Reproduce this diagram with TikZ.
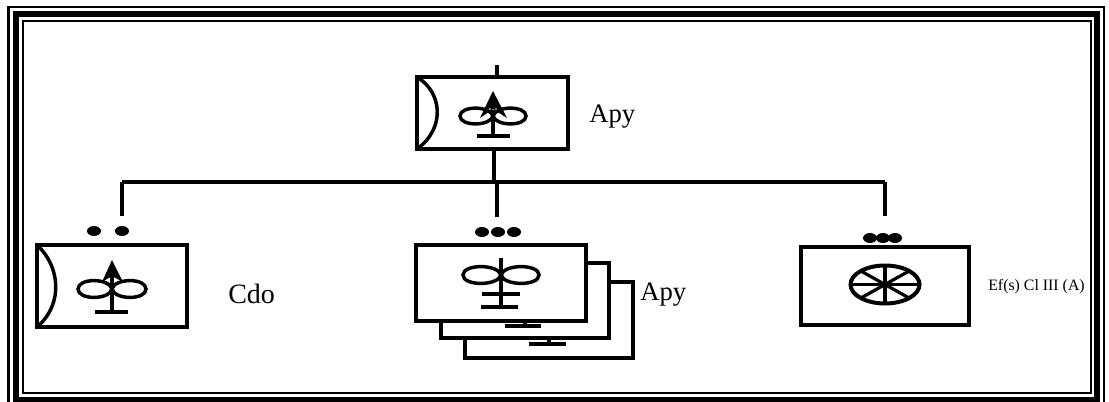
\documentclass[tikz,border=0pt]{standalone}
\usepackage{fontspec}
\setmainfont{Liberation Serif}
\usetikzlibrary{shapes.geometric}
\tikzset{
  px/.style={x=0.75pt,y=-0.75pt},
  wire/.style={line width=3pt,line cap=butt},
  unitbox/.style={draw,fill=white,line width=3pt,rectangle,outer sep=0pt,inner sep=0pt},
  glyph/.style={line width=2.6pt},
  bar/.style={line width=3pt},
  blob/.style={fill=black,ellipse,inner sep=0pt,minimum width=10.5pt,minimum height=7.5pt},
  lbl/.style={inner sep=0pt,anchor=west,font=\fontsize{20}{22}\selectfont},
  lblb/.style={inner sep=0pt,anchor=west,font=\fontsize{21}{23}\selectfont},
  small/.style={inner sep=0pt,anchor=west,font=\fontsize{11.9}{13}\selectfont}
}
\newcommand{\loops}[4]{% centre x, y, half-width, half-height
  \draw[glyph] (#1,#2)
    .. controls ({#1-0.08*#3},{#2-1.4*#4}) and ({#1-#3},{#2-1.4*#4}) .. ({#1-#3},#2)
    .. controls ({#1-#3},{#2+1.4*#4}) and ({#1-0.08*#3},{#2+1.4*#4}) .. (#1,#2)
    .. controls ({#1+0.08*#3},{#2-1.4*#4}) and ({#1+#3},{#2-1.4*#4}) .. ({#1+#3},#2)
    .. controls ({#1+#3},{#2+1.4*#4}) and ({#1+0.08*#3},{#2+1.4*#4}) .. (#1,#2) -- cycle;}
\begin{document}
\begin{tikzpicture}[px]
\useasboundingbox (0,0) rectangle (1109,401);
% frame
\draw[line width=1.9pt] (8.75,7) rectangle (1103.75,410);
\draw[line width=4.5pt] (16,14) rectangle (1097,399.5);
\draw[line width=1.5pt] (22.7,21) rectangle (1091,393);
% units
\node[unitbox,minimum width=113.25pt,minimum height=54pt] (top) at (492.5,113) {};
\node[unitbox,minimum width=112.5pt,minimum height=61.5pt] (left) at (112,286) {};
\node[unitbox,minimum width=126pt,minimum height=57pt] (m3) at (548.5,320) {};
\node[unitbox,minimum width=126pt,minimum height=56.25pt] (m2) at (524.5,300.5) {};
\node[unitbox,minimum width=127.5pt,minimum height=57pt] (mid) at (501,283) {};
\node[unitbox,minimum width=126pt,minimum height=58.5pt] (right) at (885,286) {};
% connectors
\coordinate (stemtop) at (497,65);
\coordinate (busL) at (122,182);
\coordinate (busR) at (885,182);
\coordinate (busT) at (494,182);
\coordinate (busM) at (497,182);
\coordinate (dropL) at (122,216);
\coordinate (dropM) at (497,217);
\coordinate (dropR) at (885,216);
\draw[wire] (stemtop) -- (stemtop |- top.north);
\draw[wire] (busT |- top.south) -- (busT);
\draw[wire] (busL) -- (busR);
\draw[wire] (busL) -- (dropL);
\draw[wire] (busM) -- (dropM);
\draw[wire] (busR) -- (dropR);
% curved sides
\draw[glyph] (top.north west) .. controls (442,92) and (446,128) .. (top.south west);
\draw[glyph] (left.north west) .. controls (60,266) and (64,304) .. (left.south west);
% top symbol
\loops{493}{116}{33}{7.5}
\fill (493,91) -- (507,118) -- (493,109) -- (480,118) -- cycle;
\fill[white] (490,109) circle (0.8) (496,109) circle (0.8);
\draw[glyph] (493,110) -- (493,136);
\draw[bar] (477,136) -- (510,136);
% left symbol
\loops{112}{289}{34}{8}
\fill (112,260) -- (123,282) -- (112,276) -- (102,282) -- cycle;
\draw[glyph] (112,272) -- (112,312);
\draw[bar] (95,312) -- (128,312);
% middle symbol
\loops{501}{275}{38}{8}
\draw[glyph] (501,258) -- (501,307);
\draw[bar] (482,294) -- (520,294);
\draw[bar] (481,307) -- (518,307);
% peeking symbols
\draw[glyph] (525,321) -- (525,326);
\draw[bar] (505,326) -- (541,326);
\draw[glyph] (549,338) -- (549,344);
\draw[bar] (529,344) -- (566,344);
% wheel
\draw[line width=3pt] (885,284.5) ellipse (34.5 and 19);
\foreach \a/\b in {0/-19,34/0,25/-14,25/14}{
  \draw[line width=2.4pt] (885-\a,284.5-\b) -- (885+\a,284.5+\b);}
% dots
\foreach \n/\x/\y in {a/94/231,b/122/231,c/482/232,d/498/232,e/514/232,f/870/238,g/883/238,h/895/238}{
  \node[blob] (dot\n) at (\x,\y) {};}
% labels
\node[lbl] (t1) at (589,117) {Apy};
\node[lblb] (t2) at (228,294) {Cdo};
\node[lbl] (t3) at (640,295) {Apy};
\node[small] (t4) at (988,287) {Ef(s) Cl III (A)};
\end{tikzpicture}
\end{document}
